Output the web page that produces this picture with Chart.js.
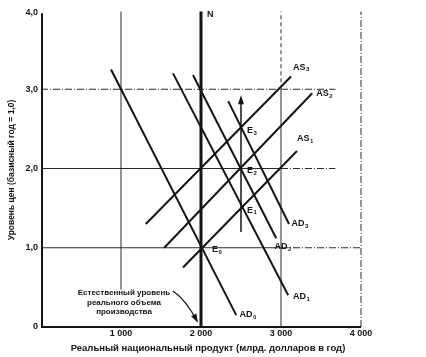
<!DOCTYPE html>
<html>
<head>
<meta charset="utf-8">
<script src="https://cdn.jsdelivr.net/npm/chart.js@4"></script>
<style>
  html, body { margin: 0; padding: 0; background: #fff; }
  canvas { display: block; }
</style>
</head>
<body>
<canvas id="chart" width="426" height="357"></canvas>
<script>
// --- данные ---
const xTicks = [1000, 2000, 3000, 4000];
const xTickLabels = ['1 000', '2 000', '3 000', '4 000'];
const yTicks = [0, 1, 2, 3, 4];
const yTickLabels = ['0', '1,0', '2,0', '3,0', '4,0'];

// кривые совокупного спроса и предложения (концы отрезков)
const curveNames = ['AD', 'AD', 'AD', 'AD', 'AS', 'AS', 'AS'];
const curveSubs  = ['0', '1', '2', '3', '1', '2', '3'];
const curveX = [[875, 2440], [1650, 3090], [1900, 2940], [2340, 3100], [1775, 3200], [1540, 3390], [1310, 3125]];
const curveY = [[3.25, 0.15], [3.2, 0.4], [3.18, 1.12], [2.85, 1.3], [0.75, 2.22], [1.0, 2.95], [1.3, 3.16]];

// точки равновесия
const eqSubs = ['0', '1', '2', '3'];
const eqX = [2000, 2500, 2500, 2500];
const eqY = [1.0, 1.5, 2.0, 2.5];

const naturalOutput = 2000;          // линия N
const arrowY = [1.2, 2.85];          // стрелка роста цен

const xTitle = 'Реальный национальный продукт (млрд. долларов в год)';
const yTitle = 'Уровень цен (базисный год = 1,0)';
const noteLines = ['Естественный уровень', 'реального объема', 'производства'];

// --- оформление ---
const INK = '#141414';
const FONT = '"Liberation Sans", Arial, sans-serif';
// положения подписей кривых (в единицах осей)
const curveLabelPos = [[2480, 0.16], [3150, 0.38], [2920, 1.02], [3130, 1.3], [3200, 2.38], [3440, 2.95], [3150, 3.28]];

function subText(ctx, main, sub, x, y, size) {
  ctx.font = 'bold ' + size + 'px ' + FONT;
  ctx.textBaseline = 'middle';
  ctx.textAlign = 'left';
  ctx.fillText(main, x, y);
  const w = ctx.measureText(main).width;
  ctx.font = 'bold ' + Math.round(size * 0.72) + 'px ' + FONT;
  ctx.fillText(sub, x + w + 0.5, y + size * 0.3);
}

function seg(ctx, x1, y1, x2, y2, width, dash) {
  ctx.save();
  ctx.beginPath();
  ctx.lineWidth = width;
  ctx.setLineDash(dash || []);
  ctx.moveTo(x1, y1);
  ctx.lineTo(x2, y2);
  ctx.stroke();
  ctx.restore();
}

const decor = {
  id: 'decor',
  beforeDatasetsDraw(chart) {
    const { ctx, scales: { x, y } } = chart;
    const X = v => x.getPixelForValue(v), Y = v => y.getPixelForValue(v);
    ctx.save();
    ctx.strokeStyle = '#2a2a2a';
    const dd = [7, 2, 1, 2];
    // горизонтальные линии сетки
    seg(ctx, X(0), Y(3), X(3680), Y(3), 1, dd);
    seg(ctx, X(0), Y(2), X(3000), Y(2), 1);
    seg(ctx, X(3000), Y(2), X(3680), Y(2), 1, dd);
    seg(ctx, X(0), Y(1), X(3000), Y(1), 1);
    seg(ctx, X(3000), Y(1), X(4000), Y(1), 1, dd);
    // вертикальные линии сетки
    seg(ctx, X(1000), Y(0.47), X(1000), Y(3.98), 1);
    seg(ctx, X(3000), Y(0), X(3000), Y(3), 1);
    seg(ctx, X(3000), Y(3), X(3000), Y(3.98), 1, [4, 3]);
    seg(ctx, X(4000), Y(0), X(4000), Y(3.98), 1, dd);
    // оси
    ctx.strokeStyle = INK;
    seg(ctx, X(0) + 1, Y(0), X(0) + 1, Y(3.96), 2);
    seg(ctx, X(0), Y(0), X(4000), Y(0), 2);
    ctx.restore();
  },
  afterDatasetsDraw(chart) {
    const { ctx, scales: { x, y } } = chart;
    const X = v => x.getPixelForValue(v), Y = v => y.getPixelForValue(v);
    ctx.save();
    ctx.fillStyle = INK;
    ctx.strokeStyle = INK;

    // подписи делений
    ctx.font = 'bold 9px ' + FONT;
    ctx.textAlign = 'right';
    ctx.textBaseline = 'middle';
    yTicks.forEach((v, i) => ctx.fillText(yTickLabels[i], X(0) - 3, Y(v) + (v === 4 ? 3 : 0)));
    ctx.textAlign = 'center';
    xTicks.forEach((v, i) => ctx.fillText(xTickLabels[i], X(v), Y(0) + 7));

    // названия осей
    ctx.font = 'bold 9.5px ' + FONT;
    ctx.fillText(xTitle, 208, Y(0) + 21);
    ctx.save();
    ctx.translate(12, 170);
    ctx.rotate(-Math.PI / 2);
    ctx.font = 'bold 8.5px ' + FONT;
    ctx.fillText(yTitle, 0, 0);
    ctx.restore();

    // N
    ctx.font = 'bold 9px ' + FONT;
    ctx.textAlign = 'left';
    ctx.fillText('N', X(naturalOutput) + 6, Y(3.94));

    // стрелка вверх
    const ax = X(2500), at = Y(arrowY[1]);
    ctx.beginPath();
    ctx.moveTo(ax, at - 6);
    ctx.lineTo(ax - 3, at + 3);
    ctx.lineTo(ax + 3, at + 3);
    ctx.closePath();
    ctx.fill();

    // подписи кривых
    curveNames.forEach((n, i) => {
      subText(ctx, n, curveSubs[i], X(curveLabelPos[i][0]), Y(curveLabelPos[i][1]), 9);
    });
    // точки равновесия
    eqSubs.forEach((s, i) => {
      subText(ctx, 'E', s, X(eqX[i]) + (i === 0 ? 11 : 6), Y(eqY[i]) + 2, 9);
    });

    // пояснение про естественный уровень
    ctx.font = 'bold 8px ' + FONT;
    ctx.textAlign = 'center';
    ctx.textBaseline = 'middle';
    [293, 303, 312].forEach((py, i) => ctx.fillText(noteLines[i], 124, py));
    const sx = 173, sy = 291, ex = X(naturalOutput) - 4, ey = Y(0) - 6;
    ctx.beginPath();
    ctx.lineWidth = 1.2;
    ctx.moveTo(sx, sy);
    ctx.quadraticCurveTo(186, 300, ex, ey);
    ctx.stroke();
    const ang = Math.atan2(ey - 300, ex - 186);
    ctx.beginPath();
    ctx.moveTo(ex + 2 * Math.cos(ang), ey + 2 * Math.sin(ang));
    ctx.lineTo(ex - 7 * Math.cos(ang) + 3 * Math.sin(ang), ey - 7 * Math.sin(ang) - 3 * Math.cos(ang));
    ctx.lineTo(ex - 7 * Math.cos(ang) - 3 * Math.sin(ang), ey - 7 * Math.sin(ang) + 3 * Math.cos(ang));
    ctx.closePath();
    ctx.fill();
    ctx.restore();
  }
};

const datasets = curveX.map((xs, i) => ({
  label: curveNames[i] + curveSubs[i],
  data: xs.map((v, j) => ({ x: v, y: curveY[i][j] })),
  showLine: true, borderColor: INK, borderWidth: 2, pointRadius: 0
}));
datasets.push({
  label: 'N',
  data: [{ x: naturalOutput, y: 0 }, { x: naturalOutput, y: 3.98 }],
  showLine: true, borderColor: INK, borderWidth: 3, pointRadius: 0
});
datasets.push({
  label: 'arrow',
  data: arrowY.map(v => ({ x: 2500, y: v })),
  showLine: true, borderColor: INK, borderWidth: 1.5, pointRadius: 0
});

new Chart(document.getElementById('chart'), {
  type: 'scatter',
  data: { datasets },
  options: {
    responsive: false,
    animation: false,
    layout: { padding: { left: 41, right: 65, top: 10, bottom: 30 } },
    plugins: { legend: { display: false }, tooltip: { enabled: false } },
    scales: {
      x: { type: 'linear', min: 0, max: 4000, display: false },
      y: { type: 'linear', min: 0, max: 4, display: false }
    }
  },
  plugins: [decor]
});
</script>
</body>
</html>
